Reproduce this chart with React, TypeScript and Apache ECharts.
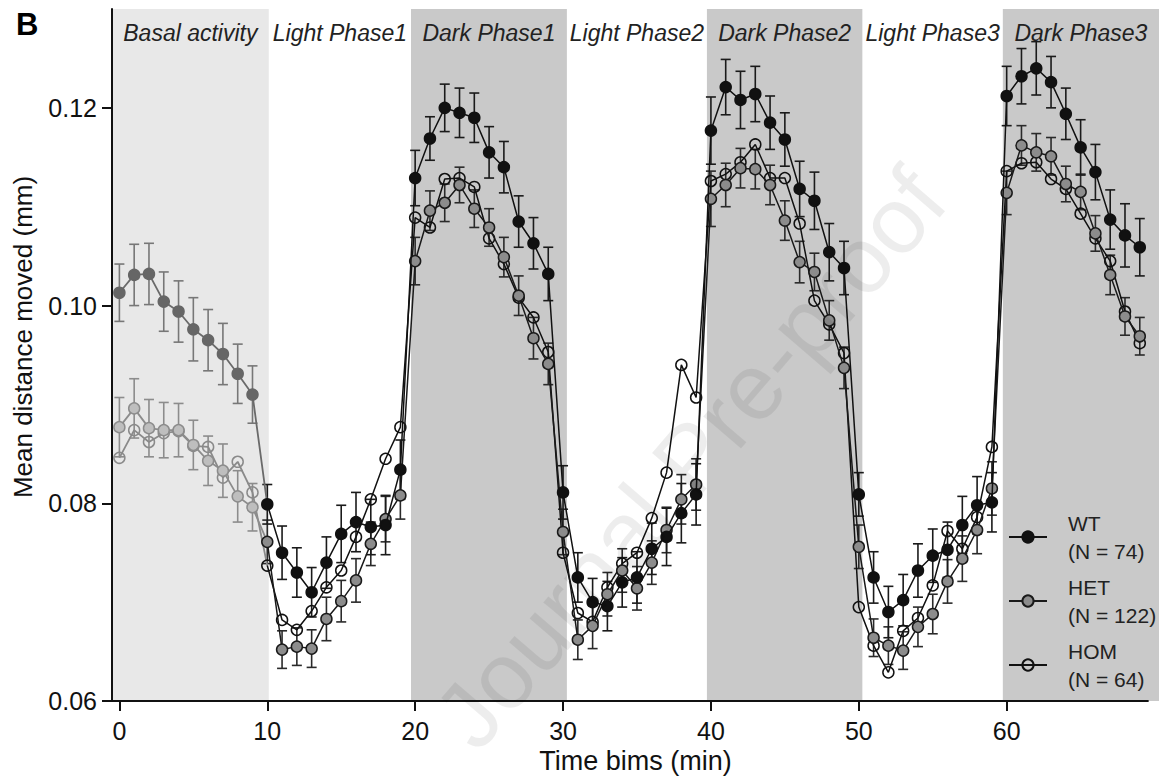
import React, { useEffect, useRef } from "react";
import * as echarts from "echarts";

// ---------- data ----------
const groupNames = ["WT", "HET", "HOM"];
const groupN = [74, 122, 64];

const xTicks = [0, 10, 20, 30, 40, 50, 60];
const yTicks = [0.06, 0.08, 0.1, 0.12];

const phaseNames = ["Basal activity", "Light Phase1", "Dark Phase1", "Light Phase2", "Dark Phase2", "Light Phase3", "Dark Phase3"];
const phaseKinds = ["basal", "light", "dark", "light", "dark", "light", "dark"];
const phaseStart = [-0.5, 10.1, 19.72, 30.26, 39.73, 50.24, 59.74];
const phaseEnd = [10.1, 19.72, 30.26, 39.73, 50.24, 59.74, 70.3];

const basalX = [0, 1, 2, 3, 4, 5, 6, 7, 8, 9];
const basalWT = [0.1013, 0.1031, 0.1032, 0.1004, 0.0994, 0.0976, 0.0965, 0.0951, 0.0931, 0.091];
const basalWTErr = [0.0029, 0.0031, 0.0031, 0.003, 0.0031, 0.0032, 0.0031, 0.0031, 0.003, 0.0029];
const basalHET = [0.0877, 0.0896, 0.0876, 0.0874, 0.0874, 0.0859, 0.0843, 0.0833, 0.0807, 0.0796];
const basalHETErr = [0.003, 0.003, 0.0029, 0.0028, 0.0027, 0.0025, 0.0025, 0.0027, 0.0026, 0.0024];
const basalHOM = [0.0846, 0.0874, 0.0862, 0.0871, 0.0873, 0.0858, 0.0857, 0.0826, 0.0842, 0.0811];

const mainX = [
  10, 11, 12, 13, 14, 15, 16, 17, 18, 19,
  20, 21, 22, 23, 24, 25, 26, 27, 28, 29,
  30, 31, 32, 33, 34, 35, 36, 37, 38, 39,
  40, 41, 42, 43, 44, 45, 46, 47, 48, 49,
  50, 51, 52, 53, 54, 55, 56, 57, 58, 59,
  60, 61, 62, 63, 64, 65, 66, 67, 68, 69,
];
const wtMean = [
  0.0799, 0.075, 0.073, 0.071, 0.074, 0.0769, 0.0781, 0.0776, 0.0778, 0.0834,
  0.1129, 0.1169, 0.12, 0.1195, 0.119, 0.1155, 0.114, 0.1085, 0.1063, 0.1032,
  0.0811, 0.0725, 0.07, 0.0696, 0.072, 0.0725, 0.0754, 0.0766, 0.079, 0.0809,
  0.1177, 0.1221, 0.1208, 0.1214, 0.1185, 0.1168, 0.1118, 0.1106, 0.1054, 0.1038,
  0.0809, 0.0725, 0.069, 0.0702, 0.0732, 0.0747, 0.0753, 0.0778, 0.0798, 0.0801,
  0.1212, 0.1232, 0.124, 0.1226, 0.1194, 0.116, 0.1135, 0.1087, 0.1071, 0.1059,
];
const wtErr = [
  0.002, 0.0027, 0.0025, 0.0025, 0.0026, 0.0029, 0.003, 0.0028, 0.003, 0.003,
  0.0028, 0.0022, 0.0024, 0.0025, 0.0025, 0.0026, 0.0026, 0.0026, 0.0026, 0.0027,
  0.0027, 0.0025, 0.0024, 0.0025, 0.0025, 0.0026, 0.0026, 0.0029, 0.003, 0.0031,
  0.0034, 0.0028, 0.0029, 0.0028, 0.0027, 0.0027, 0.0028, 0.0029, 0.0029, 0.0027,
  0.0022, 0.0026, 0.0026, 0.0026, 0.0027, 0.0027, 0.0028, 0.0029, 0.0029, 0.003,
  0.003, 0.0028, 0.0027, 0.0026, 0.0026, 0.0028, 0.0028, 0.003, 0.0032, 0.0029,
];
const hetMean = [
  0.0761, 0.0652, 0.0655, 0.0653, 0.0683, 0.0701, 0.0722, 0.0759, 0.0784, 0.0808,
  0.1045, 0.1096, 0.1104, 0.1122, 0.1098, 0.1079, 0.1049, 0.101, 0.0967, 0.0941,
  0.0771, 0.0662, 0.0676, 0.0708, 0.0732, 0.0714, 0.074, 0.0773, 0.0804, 0.0819,
  0.1108, 0.1122, 0.1139, 0.1138, 0.1122, 0.1086, 0.1044, 0.1034, 0.0985, 0.0937,
  0.0756, 0.0664, 0.0656, 0.0651, 0.0675, 0.0688, 0.0721, 0.0744, 0.0773, 0.0815,
  0.1114, 0.1162, 0.1155, 0.1151, 0.1123, 0.1115, 0.1073, 0.1031, 0.0989, 0.0969,
];
const hetErr = [
  0.0022, 0.0019, 0.0019, 0.0019, 0.0022, 0.0021, 0.0022, 0.0022, 0.0023, 0.0024,
  0.0024, 0.002, 0.0019, 0.0018, 0.0019, 0.0019, 0.002, 0.002, 0.0021, 0.0021,
  0.0023, 0.002, 0.0023, 0.0022, 0.0022, 0.0022, 0.0022, 0.0023, 0.0025, 0.0026,
  0.0028, 0.0022, 0.002, 0.002, 0.002, 0.002, 0.0021, 0.0019, 0.002, 0.0021,
  0.0022, 0.0019, 0.0019, 0.0019, 0.002, 0.002, 0.0022, 0.0023, 0.0024, 0.0027,
  0.0022, 0.002, 0.0019, 0.0019, 0.0018, 0.0018, 0.0018, 0.002, 0.0019, 0.0019,
];
const homMean = [
  0.0737, 0.0682, 0.0672, 0.0691, 0.0715, 0.0732, 0.0766, 0.0804, 0.0845, 0.0877,
  0.1089, 0.1079, 0.1128, 0.1129, 0.112, 0.1068, 0.1042, 0.1008, 0.0988, 0.0953,
  0.075, 0.0689, 0.068, 0.0715, 0.0739, 0.075, 0.0785, 0.0831, 0.094, 0.0907,
  0.1126, 0.1133, 0.1145, 0.1163, 0.1129, 0.1129, 0.1083, 0.1005, 0.0981, 0.0952,
  0.0695, 0.0656, 0.0629, 0.0671, 0.0684, 0.0717, 0.0772, 0.0754, 0.0786, 0.0857,
  0.1136, 0.1144, 0.1145, 0.1128, 0.1118, 0.1093, 0.1068, 0.1045, 0.0994, 0.0962,
];

const xMin = -0.5;
const xMax = 70.3;
const xAxisEnd = 69.6;
const yMin = 0.06;
const yMax = 0.13;

// ---------- styles ----------
const FONT = "'Liberation Sans', Arial, Helvetica, sans-serif";
const shadeColor: Record<string, string> = {
  basal: "#e8e8e8",
  light: "rgba(0,0,0,0)",
  dark: "#c9c9c9",
};

const errRender = (color: string) => (params: any, api: any) => {
  const x = api.value(0);
  const lo = api.value(1);
  const hi = api.value(2);
  const a = api.coord([x, hi]);
  const b = api.coord([x, lo]);
  const hw = 5;
  const style = { stroke: color, lineWidth: 1.6 };
  return {
    type: "group",
    children: [
      { type: "line", shape: { x1: a[0], y1: a[1], x2: b[0], y2: b[1] }, style },
      { type: "line", shape: { x1: a[0] - hw, y1: a[1], x2: a[0] + hw, y2: a[1] }, style },
      { type: "line", shape: { x1: b[0] - hw, y1: b[1], x2: b[0] + hw, y2: b[1] }, style },
    ],
  };
};

function errSeries(xs: number[], mean: number[], err: number[], color: string) {
  return {
    type: "custom",
    silent: true,
    z: 2,
    renderItem: errRender(color),
    encode: { x: 0, y: [1, 2] },
    data: xs.map((x, i) => [x, mean[i] - err[i], mean[i] + err[i]]),
  };
}

function lineSeries(
  name: string,
  xs: number[],
  ys: number[],
  lineColor: string,
  fill: string,
  border: string,
  z: number,
  lineWidth = 1.5
) {
  return {
    name,
    type: "line",
    z,
    symbol: "circle",
    symbolSize: 11,
    showSymbol: true,
    emphasis: { disabled: true },
    lineStyle: { color: lineColor, width: lineWidth },
    itemStyle: { color: fill, borderColor: border, borderWidth: 1.5 },
    data: xs.map((x, i) => [x, ys[i]]),
  };
}

function basalSeries(
  name: string,
  ys: number[],
  joinY: number,
  lineColor: string,
  fill: string,
  border: string
) {
  const data: any[] = basalX.map((x, i) => [x, ys[i]]);
  data.push({ value: [mainX[0], joinY], symbol: "none" });
  return {
    name,
    type: "line",
    z: 3,
    symbol: "circle",
    symbolSize: 11,
    emphasis: { disabled: true },
    lineStyle: { color: lineColor, width: 1.8 },
    itemStyle: { color: fill, borderColor: border, borderWidth: 1.5 },
    data,
  };
}

export default function App() {
  const ref = useRef<HTMLDivElement>(null);

  useEffect(() => {
    if (!ref.current) return;
    const chart = echarts.init(ref.current, null, { renderer: "svg" });

    const markAreaData = phaseNames.map((name, i) => [
      { name, xAxis: phaseStart[i], itemStyle: { color: shadeColor[phaseKinds[i]] } },
      { xAxis: phaseEnd[i] },
    ]);

    const option: any = {
      animation: false,
      backgroundColor: "#ffffff",
      textStyle: { fontFamily: FONT },
      grid: { left: 112, right: 7, top: 9, bottom: 82, containLabel: false },
      xAxis: {
        type: "value",
        min: xMin,
        max: xMax,
        z: 5,
        name: "Time bims (min)",
        nameLocation: "middle",
        nameGap: 46,
        nameTextStyle: { fontSize: 27, color: "#111", fontFamily: FONT },
        axisLine: { show: false },
        axisTick: {
          show: true,
          length: 10,
          customValues: xTicks,
          lineStyle: { color: "#111", width: 2 },
        },
        axisLabel: {
          customValues: xTicks,
          fontSize: 25,
          color: "#111",
          margin: 17,
          fontFamily: FONT,
        },
        splitLine: { show: false },
      },
      yAxis: {
        type: "value",
        min: yMin,
        max: yMax,
        z: 5,
        axisLine: { show: true, onZero: false, lineStyle: { color: "#111", width: 2 } },
        axisTick: {
          show: true,
          length: 10,
          customValues: yTicks,
          lineStyle: { color: "#111", width: 2 },
        },
        axisLabel: {
          customValues: yTicks,
          fontSize: 25,
          color: "#111",
          margin: 15,
          fontFamily: FONT,
          formatter: (v: number) => v.toFixed(2),
        },
        splitLine: { show: false },
      },
      legend: {
        show: true,
        orient: "vertical",
        left: 1008,
        top: 509,
        padding: 0,
        itemGap: 8,
        itemWidth: 38,
        itemHeight: 14,
        selectedMode: false,
        data: groupNames,
        formatter: (name: string) => `${name}\n(N = ${groupN[groupNames.indexOf(name)]})`,
        textStyle: {
          fontSize: 21,
          lineHeight: 28,
          color: "#222",
          fontFamily: FONT,
          padding: [0, 0, 0, 16],
        },
      },
      graphic: [
        {
          type: "text",
          x: 16,
          y: 24,
          silent: true,
          style: {
            text: "B",
            fontSize: 31,
            fontWeight: "bold",
            fontFamily: FONT,
            fill: "#000",
            textVerticalAlign: "middle",
          },
        },
        {
          type: "text",
          x: 23,
          y: 337,
          rotation: Math.PI / 2,
          silent: true,
          style: {
            text: "Mean distance moved (mm)",
            fontSize: 26,
            fontFamily: FONT,
            fill: "#111",
            textAlign: "center",
            textVerticalAlign: "middle",
          },
        },
        {
          type: "text",
          x: 690,
          y: 458,
          rotation: 0.86,
          silent: true,
          z: 100,
          style: {
            text: "Journal Pre-proof",
            fontSize: 94,
            fontFamily: FONT,
            fill: "rgba(0,0,0,0.07)",
            textAlign: "center",
            textVerticalAlign: "middle",
          },
        },
      ],
      series: [
        {
          name: "axis",
          type: "line",
          z: 4,
          silent: true,
          symbol: "none",
          lineStyle: { color: "#111", width: 2 },
          data: [
            [xMin, yMin],
            [xAxisEnd, yMin],
          ],
          markArea: {
            silent: true,
            z: 1,
            label: {
              show: true,
              position: "insideTop",
              distance: 12,
              fontSize: 23,
              fontStyle: "italic",
              color: "#222",
              fontFamily: FONT,
            },
            data: markAreaData,
          },
        },
        errSeries(basalX, basalWT, basalWTErr, "#777"),
        errSeries(basalX, basalHET, basalHETErr, "#8c8c8c"),
        basalSeries("HOM basal", basalHOM, homMean[0], "#8a8a8a", "rgba(0,0,0,0)", "#8a8a8a"),
        basalSeries("HET basal", basalHET, hetMean[0], "#8c8c8c", "#bebebe", "#8c8c8c"),
        basalSeries("WT basal", basalWT, wtMean[0], "#6a6a6a", "#666666", "#666666"),
        errSeries(mainX, hetMean, hetErr, "#2a2a2a"),
        errSeries(mainX, wtMean, wtErr, "#1a1a1a"),
        lineSeries("HOM", mainX, homMean, "#111", "rgba(0,0,0,0)", "#111", 6),
        lineSeries("HET", mainX, hetMean, "#1a1a1a", "#8c8c8c", "#1a1a1a", 7),
        lineSeries("WT", mainX, wtMean, "#111", "#111111", "#111111", 8),
      ],
    };

    chart.setOption(option);
    return () => chart.dispose();
  }, []);

  return (
    <div
      ref={ref}
      style={{ position: "absolute", left: 0, top: 0, width: 1166, height: 783 }}
    />
  );
}
